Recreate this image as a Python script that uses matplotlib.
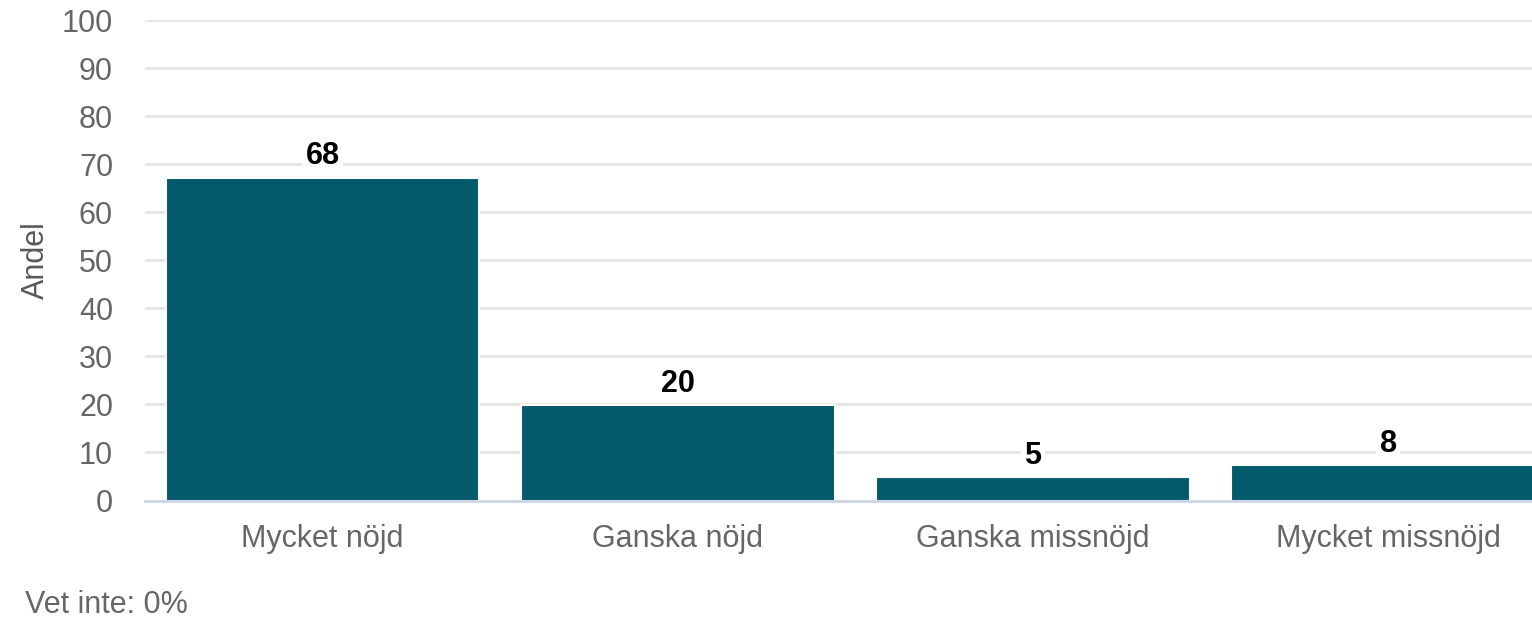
import matplotlib
matplotlib.use('Agg')
import matplotlib.pyplot as plt

plt.rcParams['font.family'] = ['Liberation Sans', 'DejaVu Sans']

# data
kategorier = ['Mycket nöjd', 'Ganska nöjd', 'Ganska missnöjd', 'Mycket missnöjd']
andel = [67.2, 19.8, 4.8, 7.3]
etiketter = ['68', '20', '5', '8']
fotnot = 'Vet inte: 0%'

W, H = 1532, 619
fig = plt.figure(figsize=(W / 100, H / 100), dpi=100)
ax = fig.add_axes([145 / W, (H - 500.5) / H, (W - 145) / W, (500.5 - 20) / H])

x = list(range(len(kategorier)))
bars = ax.bar(x, andel, width=0.883, color='#035A6A', edgecolor='white',
              linewidth=1.5, zorder=3)

for b, lab in zip(bars, etiketter):
    ax.annotate(lab, (b.get_x() + b.get_width() / 2, b.get_height()),
                xytext=(0, 9.5), textcoords='offset points',
                ha='center', va='baseline', fontsize=22, fontweight='bold',
                color='black', zorder=4,
                bbox=dict(boxstyle='square,pad=0.12', facecolor='white',
                          edgecolor='none'))

ax.set_xlim(-0.5, 3.405)
ax.set_ylim(0, 100)
ax.set_yticks(range(0, 101, 10))
ax.set_xticks(x)
ax.set_xticklabels(kategorier)
ax.tick_params(axis='both', length=0, labelsize=22, labelcolor='#666666')
ax.tick_params(axis='y', pad=23)
ax.tick_params(axis='x', pad=17)

ax.grid(axis='y', color='#E5E5E5', linewidth=2, zorder=1)
ax.set_axisbelow(True)
for side in ['top', 'right', 'left']:
    ax.spines[side].set_visible(False)
ax.spines['bottom'].set_color('#CDD5E4')
ax.spines['bottom'].set_linewidth(2)
ax.spines['bottom'].set_zorder(4)

ax.set_ylabel('Andel', fontsize=22, color='#595959', labelpad=8)

fig.text(25 / W, 1 - 605 / H, fotnot, fontsize=22, color='#666666',
         ha='left', va='center')

fig.savefig('out.png', dpi=100)
